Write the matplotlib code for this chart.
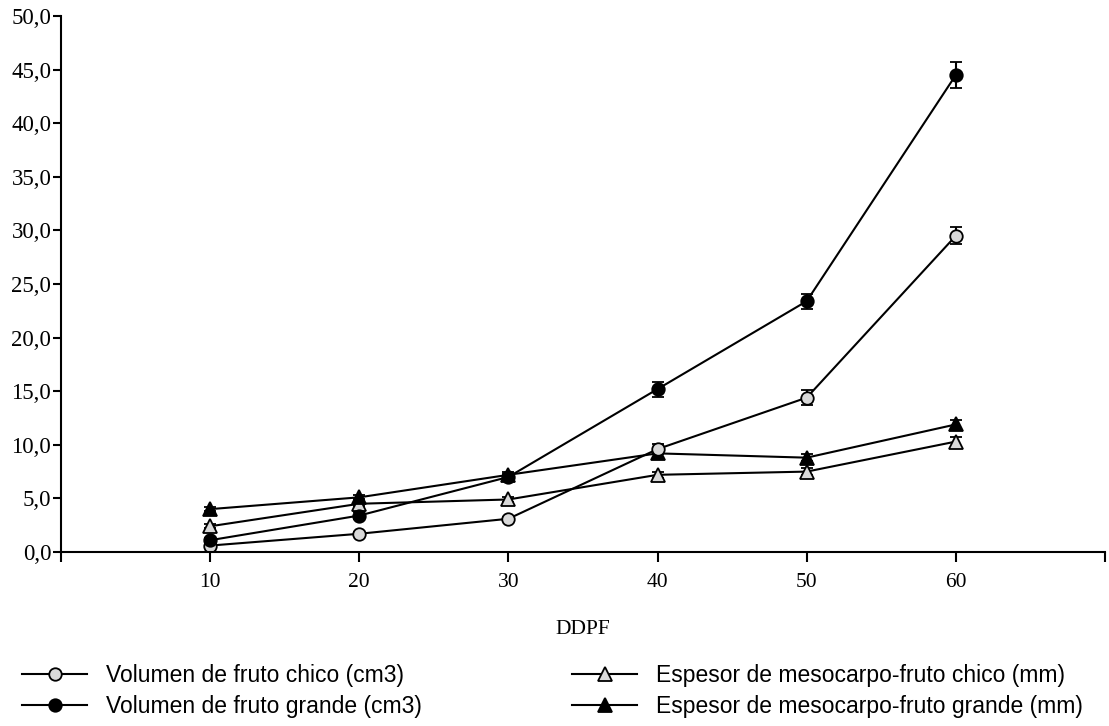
import matplotlib
matplotlib.use("Agg")
import matplotlib.pyplot as plt

# --- Data: days after full bloom (DDPF) ---
ddpf = [10, 20, 30, 40, 50, 60]

vol_chico = [0.6, 1.7, 3.1, 9.6, 14.4, 29.5]
vol_chico_err = [0.1, 0.15, 0.2, 0.5, 0.7, 0.8]

vol_grande = [1.1, 3.4, 7.0, 15.2, 23.4, 44.5]
vol_grande_err = [0.2, 0.3, 0.3, 0.7, 0.7, 1.25]

esp_chico = [2.4, 4.5, 4.9, 7.2, 7.5, 10.3]
esp_chico_err = [0.2, 0.2, 0.2, 0.3, 0.3, 0.4]

esp_grande = [4.0, 5.1, 7.2, 9.2, 8.8, 11.9]
esp_grande_err = [0.2, 0.2, 0.3, 0.3, 0.3, 0.4]

labels = [
    "Volumen de fruto chico (cm3)",
    "Volumen de fruto grande (cm3)",
    "Espesor de mesocarpo-fruto chico (mm)",
    "Espesor de mesocarpo-fruto grande (mm)",
]

y_ticks = [0, 5, 10, 15, 20, 25, 30, 35, 40, 45, 50]

GRAY = "#d9d9d9"

fig = plt.figure(figsize=(11.09, 7.26), dpi=100)
ax = fig.add_axes([61 / 1109, 1 - 552 / 726, (1105 - 61) / 1109, (552 - 16) / 726])

series = [
    (esp_chico, esp_chico_err, "^", GRAY, 10),
    (esp_grande, esp_grande_err, "^", "black", 10),
    (vol_chico, vol_chico_err, "o", GRAY, 9),
    (vol_grande, vol_grande_err, "o", "black", 9),
]

lines = {}
for vals, errs, marker, face, ms in series:
    cont = ax.errorbar(ddpf, vals, yerr=errs, color="black", lw=1.5,
                       marker=marker, markersize=ms, markerfacecolor=face,
                       markeredgecolor="black", markeredgewidth=1.3,
                       ecolor="black", elinewidth=1.5, capsize=4.5, capthick=1.5)
    lines[(marker, face)] = cont[0]

# --- Axes styling ---
ax.set_xlim(0, 70)
ax.set_ylim(0, 50)
ax.spines["top"].set_visible(False)
ax.spines["right"].set_visible(False)
for s in ("left", "bottom"):
    ax.spines[s].set_linewidth(1.5)

ax.set_xticks([0, 10, 20, 30, 40, 50, 60, 70])
ax.set_xticklabels(["", "10", "20", "30", "40", "50", "60", ""])
ax.set_yticks(y_ticks)
ax.set_yticklabels([f"{v:.1f}".replace(".", ",") for v in y_ticks])

ax.tick_params(axis="x", direction="out", length=7, width=1.5, pad=8)
ax.tick_params(axis="y", direction="out", length=6, width=1.5, pad=1)
for lab in ax.get_xticklabels():
    lab.set_fontfamily("Liberation Serif")
    lab.set_fontsize(15.5)
for lab in ax.get_yticklabels():
    lab.set_fontfamily("Liberation Serif")
    lab.set_fontsize(16.5)

ax.set_xlabel("DDPF", fontfamily="Liberation Serif", fontsize=15.5, labelpad=20)

# --- Legend in two columns below the plot ---
leg_kw = dict(loc="upper left", frameon=False, borderpad=0, borderaxespad=0,
              handlelength=2.84, handletextpad=0.83, labelspacing=0.36,
              prop={"family": "Liberation Sans", "size": 16.5})
leg1 = fig.legend([lines[("o", GRAY)], lines[("o", "black")]], labels[:2],
                  bbox_to_anchor=(22 / 1109, 1 - 664 / 726), **leg_kw)
leg2 = fig.legend([lines[("^", GRAY)], lines[("^", "black")]], labels[2:],
                  bbox_to_anchor=(572 / 1109, 1 - 664 / 726), **leg_kw)

plt.savefig("out.png", dpi=100)
plt.close()
